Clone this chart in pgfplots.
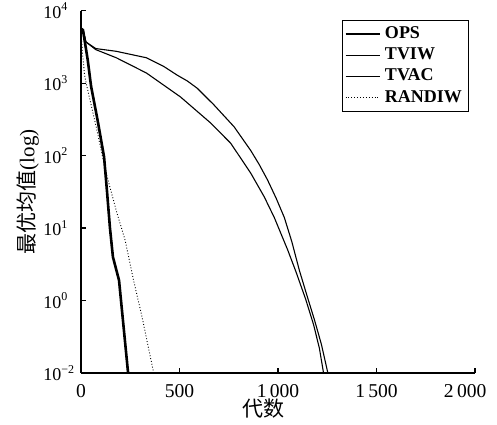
\documentclass[border=0pt]{standalone}
\usepackage{fontspec}
\setmainfont{Liberation Serif}
\newfontfamily\cjk{Noto Sans CJK SC}
\usepackage{pgfplots}
\pgfplotsset{compat=1.18}

\begin{document}
\begin{tikzpicture}
\begin{axis}[
    scale only axis,
    width=197pt, height=181.15pt,
    xmin=0, xmax=2000,
    ymode=log, ymin=0.1, ymax=10000,
    axis lines=left,
    axis line style={-, line width=0.75pt},
    tick align=inside,
    major tick length=2.5pt,
    tick style={line width=0.6pt, black},
    xtick={0,500,1000,1500,2000},
    xticklabels={0,500,1\,000,1\,500,2\,000\phantom{00}},
    ytick={0.1,1,10,100,1000,10000},
    yticklabels={10\textsuperscript{−2},10\textsuperscript{0},10\textsuperscript{1},10\textsuperscript{2},10\textsuperscript{3},10\textsuperscript{4}},
    yminorticks=false,
    xticklabel style={font=\fontsize{9.8}{12}\selectfont, yshift=-2pt},
    yticklabel style={font=\fontsize{9}{11}\selectfont, anchor=west, inner sep=0pt, xshift=-19pt},
    xlabel={\cjk 代数},
    ylabel={{\cjk 最优均值}(log)},
    label style={font=\fontsize{10.5}{12}\selectfont},
    xlabel style={at={(rel axis cs:0.462,-0.099)}, anchor=center},
    ylabel style={at={(rel axis cs:-0.135,0.5)}, anchor=center},
    legend style={at={(rel axis cs:0.662,0.974)}, anchor=north west,
        draw=black, line width=0.4pt, inner sep=1pt,
        font=\fontsize{9}{10}\selectfont\bfseries,
        row sep=-0.8pt,
        /tikz/every even column/.append style={column sep=0pt}},
    legend cell align=left,
    legend image code/.code={\draw[#1] (0cm,0cm) -- (0.6cm,0cm);},
]
% OPS
\addplot[black, line width=1.3pt] coordinates {
(0,5600) (10,5400) (34,2100) (51,910) (85,300) (117,96) (132,32)
(147,10) (162,4) (193,1.9) (239,0.1)};
% TVIW
\addplot[black, line width=0.55pt] coordinates {
(0,5800) (10,5500) (25,3700) (75,3000) (179,2750) (332,2240) (420,1700)
(488,1290) (540,1070) (590,850) (675,500) (777,250) (862,117) (905,75)
(947,46) (990,26) (1032,14) (1070,6.5) (1108,2.63) (1150,1.1) (1185,0.54)
(1220,0.25) (1253,0.1)};
% TVAC
\addplot[black, line width=0.55pt] coordinates {
(0,5800) (10,5500) (25,3700) (75,2900) (179,2240) (332,1380) (505,645)
(658,282) (760,148) (862,57) (930,27) (981,14) (1049,5) (1091,2.5)
(1140,1.05) (1180,0.47) (1210,0.22) (1231,0.1)};
% RANDIW
\addplot[black, line width=0.45pt, densely dotted] coordinates {
(0,5000) (8,2500) (18,1300) (26,1000) (77,250) (108,100) (138,45)
(180,17) (224,6.8) (265,2.0) (310,0.59) (369,0.1)};
\legend{OPS,TVIW,TVAC,RANDIW}
\coordinate (bl) at (rel axis cs:-0.2056,-0.1435);
\coordinate (tr) at (rel axis cs:1.0558,1.0295);
\end{axis}
\pgfresetboundingbox
\useasboundingbox (bl) rectangle (tr);
\end{tikzpicture}
\end{document}
